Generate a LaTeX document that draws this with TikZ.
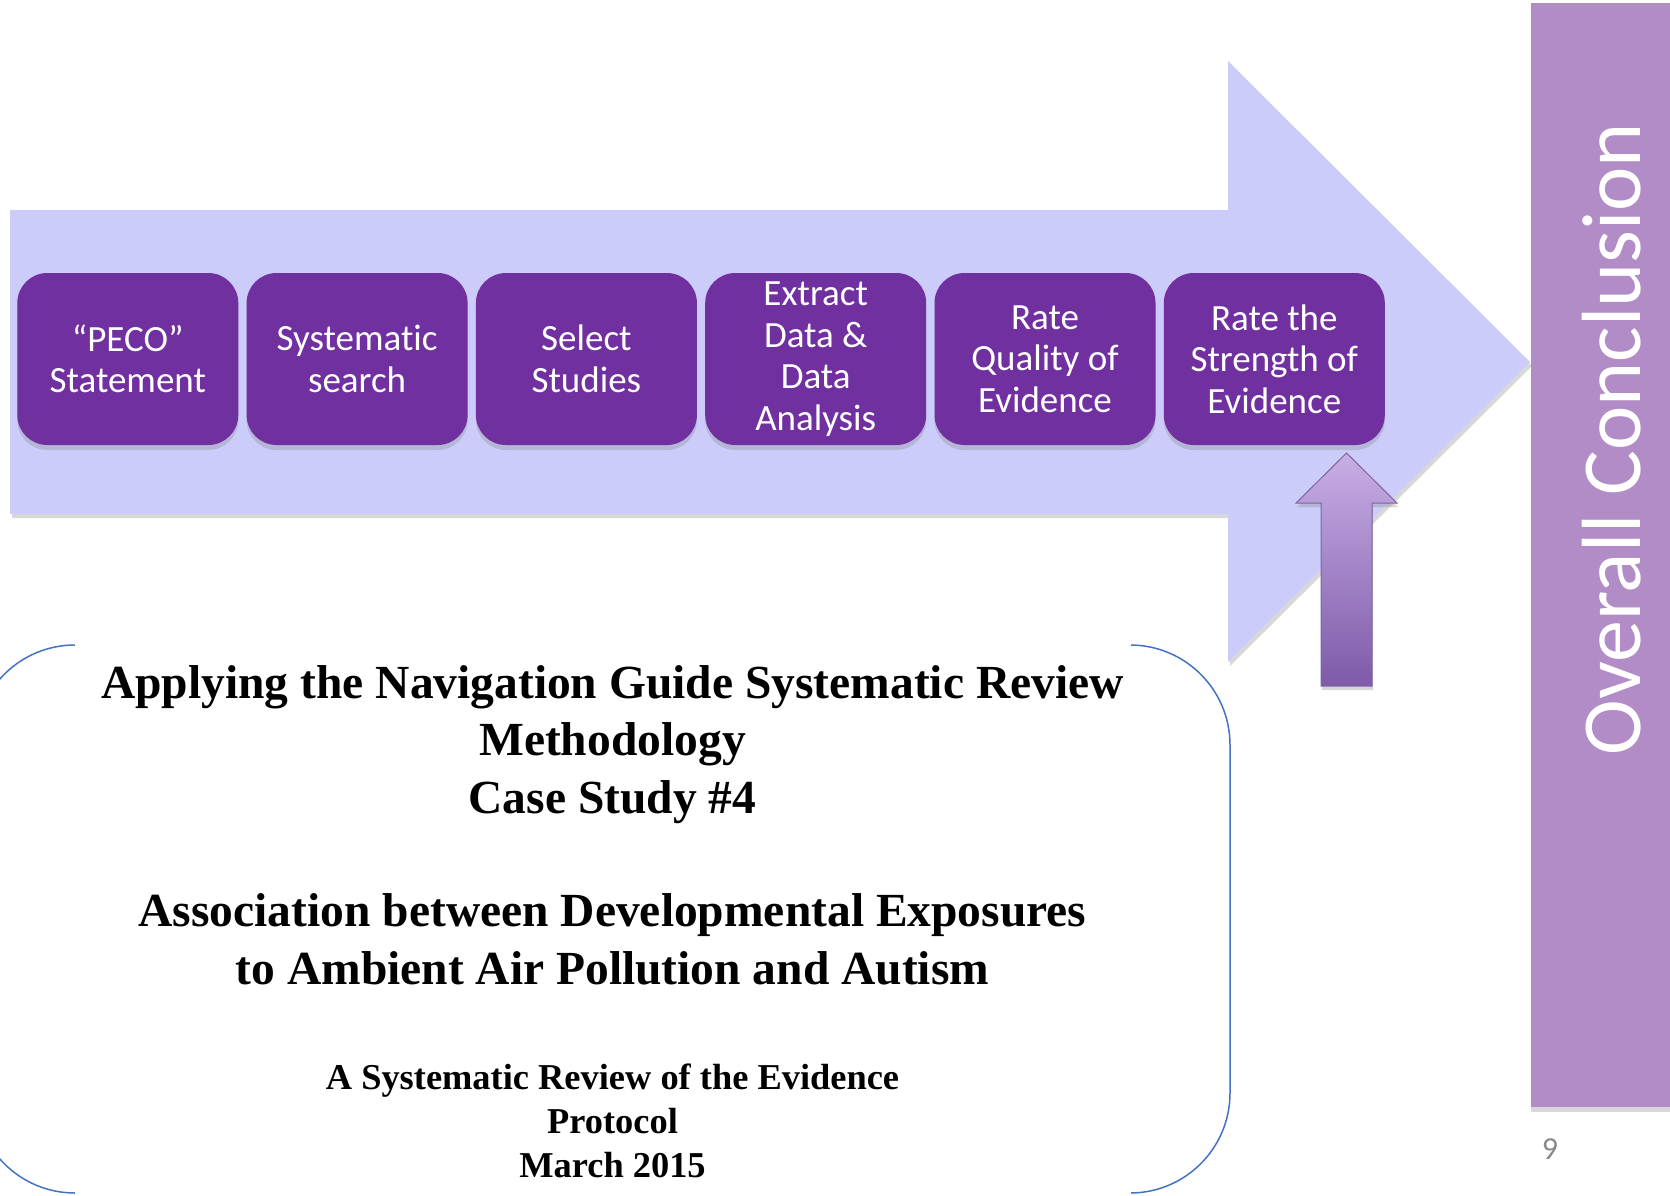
\documentclass[tikz,border=0pt]{standalone}
\usepackage{fontspec}
\usetikzlibrary{shadows}
\newfontfamily\boxfont[Ligatures=NoCommon]{Carlito}
\newfontfamily\docfont{Liberation Serif}
\definecolor{arrowfill}{RGB}{204,204,250}
\definecolor{stepfill}{RGB}{112,48,160}
\definecolor{barfill}{RGB}{178,140,198}
\definecolor{frameblue}{RGB}{68,114,196}
\definecolor{uptop}{RGB}{200,174,230}
\definecolor{upbot}{RGB}{126,90,168}
\definecolor{upline}{RGB}{128,100,162}
\definecolor{pagegray}{RGB}{137,137,137}
\begin{document}
\begin{tikzpicture}[x=1pt,y=-1pt,
  stepbox/.style={fill=stepfill, rounded corners=30pt, minimum width=221pt,
    minimum height=172pt, inner sep=0pt, align=center, text=white,
    font=\boxfont\fontsize{37}{41.5}\selectfont,
    drop shadow={opacity=0.3, shadow xshift=0pt, shadow yshift=-5pt}},
  doctitle/.style={font=\docfont\bfseries\fontsize{47.5}{57.5}\selectfont, align=center, inner sep=0pt},
  docsub/.style={font=\docfont\bfseries\fontsize{36.4}{44}\selectfont, align=center, inner sep=0pt}]
\useasboundingbox (0,0) rectangle (1670,1196);
\fill[white] (0,0) rectangle (1670,1196);

% big process arrow
\fill[arrowfill, drop shadow={opacity=0.3, shadow xshift=2pt, shadow yshift=-4pt}]
  (10,210) -- (1228,210) -- (1228,61) -- (1530,362) -- (1228,662) -- (1228,514) -- (10,514) -- cycle;

% document frame (rounded rectangle partly hidden by the cover page)
\draw[frameblue, line width=1.5pt, rounded corners=100pt] (-25,645) rectangle (1230,1193);
\fill[white] (75,638) rectangle (1131,1200);

% steps
\node[stepbox] (b1) at (127.8,359) {\textquotedblleft PECO\textquotedblright\\Statement};
\node[stepbox] (b2) at (357.1,359) {Systemat\kern0pt ic\\search};
\node[stepbox] (b3) at (586.4,359) {Select\\Studies};
\node[stepbox] (b4) at (815.7,359) {Extract\\Data \&\\Data\\Analysis};
\node[stepbox] (b5) at (1045,359) {Rate\\Quality of\\Evidence};
\node[stepbox] (b6) at (1274.3,359) {Rate the\\Strength of\\Evidence};

% upward block arrow
\path[top color=uptop, bottom color=upbot, draw=upline, line width=1pt,
  drop shadow={opacity=0.3, shadow xshift=1pt, shadow yshift=-4pt}]
  (1321,686) -- (1321,503) -- (1296,503) -- (1346.5,453) -- (1397,503) -- (1372,503) -- (1372,686) -- cycle;

% overall conclusion bar
\fill[barfill, drop shadow={opacity=0.3, shadow xshift=0pt, shadow yshift=-5pt}]
  (1531,3) rectangle (1672,1107);
\node[rotate=90, anchor=base, text=white, inner sep=0pt,
  font=\boxfont\fontsize{84}{84}\selectfont] (oc) at (1640,439) {Overall Conclusion};

% page number
\node[text=pagegray, font=\boxfont\fontsize{32}{32}\selectfont, inner sep=0pt] (pn) at (1550,1149) {9};

% document text (base anchor = baseline of last line)
\node[doctitle, anchor=base] (t1) at (612.5,813)
  {Applying the Navigation Guide Systematic Review\\Methodology\\Case Study \#4};
\node[doctitle, anchor=base] (t2) at (612.5,984)
  {Association between Developmental Exposures\\to Ambient Air Pollution and Autism};
\node[docsub, anchor=base] (t3) at (612.5,1177)
  {A Systematic Review of the Evidence\\Protocol\\March 2015};
\end{tikzpicture}
\end{document}
